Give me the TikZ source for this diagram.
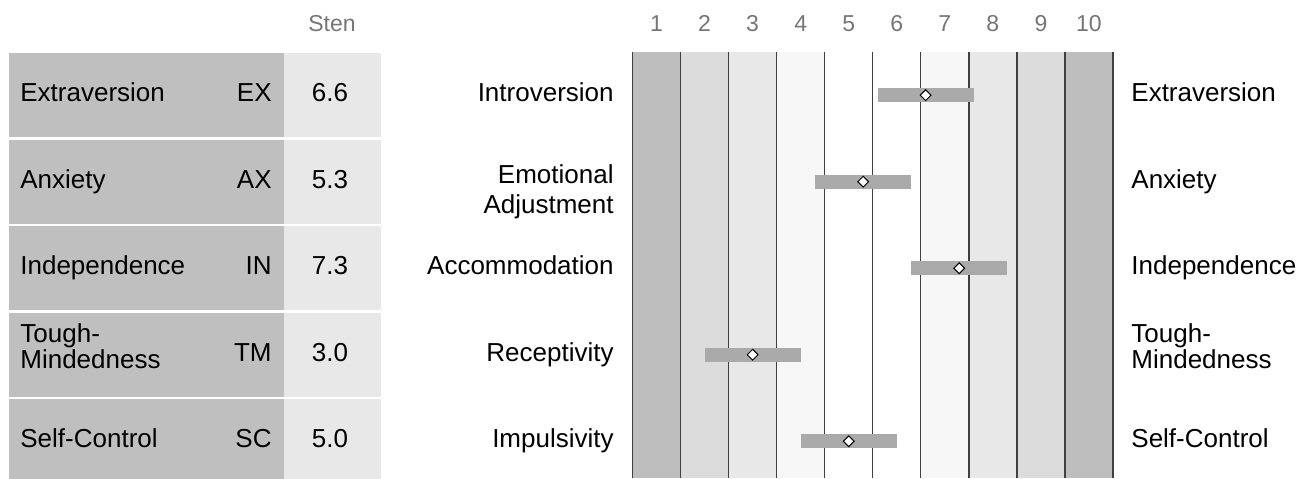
\documentclass[tikz,border=0pt]{standalone}
\usepackage{fontspec}
\setmainfont{Liberation Sans}
\usepackage{xcolor}
\usetikzlibrary{shapes.geometric}

\definecolor{rowdark}{HTML}{BFBFBF}
\definecolor{rowlight}{HTML}{E8E8E8}
\definecolor{bandA}{HTML}{BEBEBE}
\definecolor{bandB}{HTML}{DCDCDC}
\definecolor{bandC}{HTML}{E8E8E8}
\definecolor{bandD}{HTML}{F7F7F7}
\definecolor{bargray}{HTML}{AAAAAA}
\definecolor{headgray}{HTML}{757575}
\definecolor{gridgray}{HTML}{404040}

\tikzset{
  txt/.style={font=\fontsize{13}{12}\selectfont,inner sep=0pt},
  twoline/.style={txt,align=left,font=\fontsize{13}{12}\selectfont},
  head/.style={font=\fontsize{11.5}{13}\selectfont,text=headgray,inner sep=0pt},
  gridline/.style={draw=gridgray,line width=0.65pt},
  stenbar/.style={fill=bargray},
  scoremark/.style={diamond,draw=black,fill=white,line width=0.5pt,inner sep=0pt,minimum width=5.6pt,minimum height=5.6pt}
}

\begin{document}
\begin{tikzpicture}[x=0.5pt,y=-0.5pt]
\clip (0,0) rectangle (1310,478);

% score table
\fill[rowdark] (9,53) rectangle (284,137.3);
\fill[rowdark] (9,139.5) rectangle (284,223.8);
\fill[rowdark] (9,226) rectangle (284,310.3);
\fill[rowdark] (9,312.5) rectangle (284,396.8);
\fill[rowdark] (9,399) rectangle (284,483.3);
\fill[rowlight] (284,53) rectangle (381,137.3);
\fill[rowlight] (284,139.5) rectangle (381,223.8);
\fill[rowlight] (284,226) rectangle (381,310.3);
\fill[rowlight] (284,312.5) rectangle (381,396.8);
\fill[rowlight] (284,399) rectangle (381,483.3);

\node (sten) at (332,24) [head] {Sten};

\node (ex) at (20,101.7) [txt,anchor=base west] {Extraversion};
\node (ax) at (20,188.2) [txt,anchor=base west] {Anxiety};
\node (in) at (20,274.7) [txt,anchor=base west] {Independence};
\node (tm) at (20,368.5) [twoline,anchor=base west] {Tough-\\Mindedness};
\node (sc) at (20,447.7) [txt,anchor=base west] {Self-Control};

\node (exab) at (272,101.7) [txt,anchor=base east] {EX};
\node (axab) at (272,188.2) [txt,anchor=base east] {AX};
\node (inab) at (272,274.7) [txt,anchor=base east] {IN};
\node (tmab) at (272,361.2) [txt,anchor=base east] {TM};
\node (scab) at (272,447.7) [txt,anchor=base east] {SC};

\node (exsc) at (330,101.7) [txt,anchor=base] {6.6};
\node (axsc) at (330,188.2) [txt,anchor=base] {5.3};
\node (insc) at (330,274.7) [txt,anchor=base] {7.3};
\node (tmsc) at (330,361.2) [txt,anchor=base] {3.0};
\node (scsc) at (330,447.7) [txt,anchor=base] {5.0};

% sten bands
\fill[bandA] (632.5,52) rectangle (680.55,478);
\fill[bandB] (680.55,52) rectangle (728.6,478);
\fill[bandC] (728.6,52) rectangle (776.65,478);
\fill[bandD] (776.65,52) rectangle (824.7,478);
\fill[white] (824.7,52) rectangle (920.8,478);
\fill[bandD] (920.8,52) rectangle (968.85,478);
\fill[bandC] (968.85,52) rectangle (1016.9,478);
\fill[bandB] (1016.9,52) rectangle (1064.95,478);
\fill[bandA] (1064.95,52) rectangle (1113,478);

\foreach \k in {0,...,10}
  \draw[gridline] ({632.5+48.05*\k},52) -- ({632.5+48.05*\k},478);
\foreach \k in {1,...,10}
  \node (num\k) at ({632.5+48.05*(\k-0.5)},23.3) [head] {\k};

% bars
\fill[stenbar] (877.55,88.35) rectangle (973.65,102.05);
\fill[stenbar] (815.09,174.85) rectangle (911.19,188.55);
\fill[stenbar] (911.19,261.35) rectangle (1007.29,275.05);
\fill[stenbar] (704.58,347.85) rectangle (800.68,361.55);
\fill[stenbar] (800.68,434.35) rectangle (896.78,448.05);

\node (exmk) at (925.6,95.2) [scoremark] {};
\node (axmk) at (863.14,181.7) [scoremark] {};
\node (inmk) at (959.24,268.2) [scoremark] {};
\node (tmmk) at (752.63,354.7) [scoremark] {};
\node (scmk) at (848.73,441.2) [scoremark] {};

% pole labels
\node (intro) at (614,101.7) [txt,anchor=base east] {Introversion};
\node (emadj) at (614,213.3) [twoline,align=right,anchor=base east,font=\fontsize{13}{15}\selectfont] {Emotional\\Adjustment};
\node (accom) at (614,274.7) [txt,anchor=base east] {Accommodation};
\node (recep) at (614,361.2) [txt,anchor=base east] {Receptivity};
\node (impul) at (614,447.7) [txt,anchor=base east] {Impulsivity};

\node (extra) at (1131,101.7) [txt,anchor=base west] {Extraversion};
\node (anxie) at (1131,188.2) [txt,anchor=base west] {Anxiety};
\node (indep) at (1131,274.7) [txt,anchor=base west] {Independence};
\node (tough) at (1131,368.5) [twoline,anchor=base west] {Tough-\\Mindedness};
\node (selfc) at (1131,447.7) [txt,anchor=base west] {Self-Control};
\end{tikzpicture}
\end{document}
